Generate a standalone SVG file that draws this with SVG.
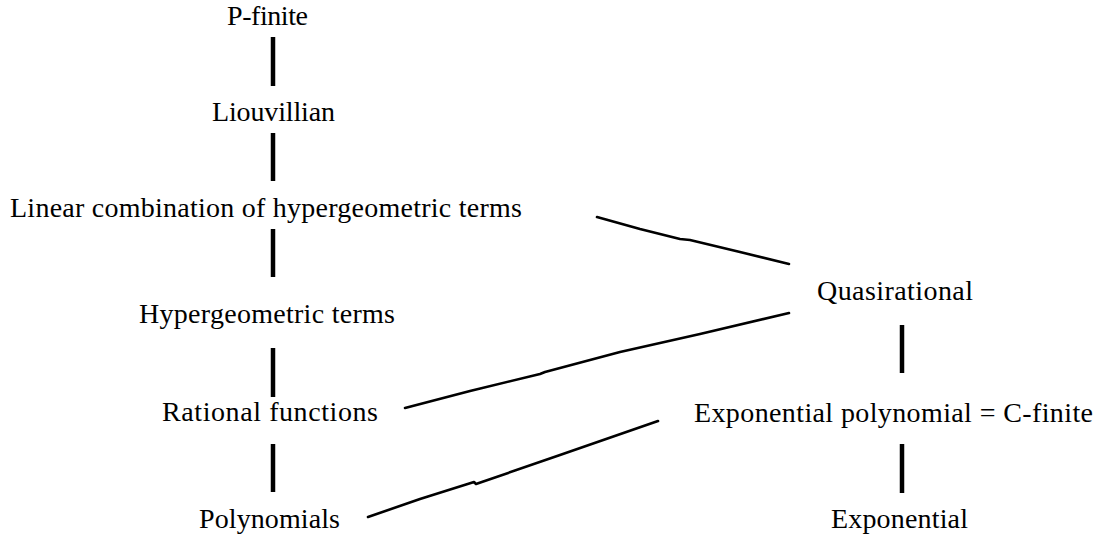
<svg xmlns="http://www.w3.org/2000/svg" width="1097" height="538" viewBox="0 0 1097 538">
<style>
text{font-family:"Liberation Serif","DejaVu Serif",serif;font-size:28px;fill:#000}
.v{stroke:#000;stroke-width:4.5;fill:none}
.d{stroke:#000;stroke-width:2.6;fill:none;stroke-linejoin:round;stroke-linecap:round}
</style>
<rect width="1097" height="538" fill="#fff"/>
<g id="connectors">
<line class="v" x1="273" y1="37" x2="273" y2="86"/>
<line class="v" x1="273" y1="133" x2="273" y2="181"/>
<line class="v" x1="273" y1="229" x2="273" y2="277"/>
<line class="v" x1="273" y1="348" x2="273" y2="397"/>
<line class="v" x1="273" y1="444" x2="273" y2="492"/>
<line class="v" x1="902" y1="325" x2="902" y2="373"/>
<line class="v" x1="902" y1="444" x2="902" y2="493"/>
<polyline class="d" points="597,217 640,229 680,239 690,240 740,252 789,264"/>
<polyline class="d" points="405,408 470,391 540,374 545,372 620,352 700,334 789,313"/>
<polyline class="d" points="368,517 420,499 474,482 476,484 560,455 658,421"/>
</g>
<g id="n-pfinite"><text x="227" y="25" textLength="81" lengthAdjust="spacing">P-finite</text></g>
<g id="n-liouvillian"><text x="212" y="121" textLength="123" lengthAdjust="spacing">Liouvillian</text></g>
<g id="n-linear"><text x="10" y="217" textLength="512" lengthAdjust="spacing">Linear combination of hypergeometric terms</text></g>
<g id="n-hyper"><text x="139" y="323" textLength="256" lengthAdjust="spacing">Hypergeometric terms</text></g>
<g id="n-rational"><text x="162" y="421" textLength="216" lengthAdjust="spacing">Rational functions</text></g>
<g id="n-poly"><text x="199" y="528" textLength="141" lengthAdjust="spacing">Polynomials</text></g>
<g id="n-quasi"><text x="817" y="300" textLength="156" lengthAdjust="spacing">Quasirational</text></g>
<g id="n-exppoly"><text x="694" y="422" textLength="399" lengthAdjust="spacing">Exponential polynomial = C-finite</text></g>
<g id="n-exp"><text x="831" y="528" textLength="137" lengthAdjust="spacing">Exponential</text></g>
</svg>
